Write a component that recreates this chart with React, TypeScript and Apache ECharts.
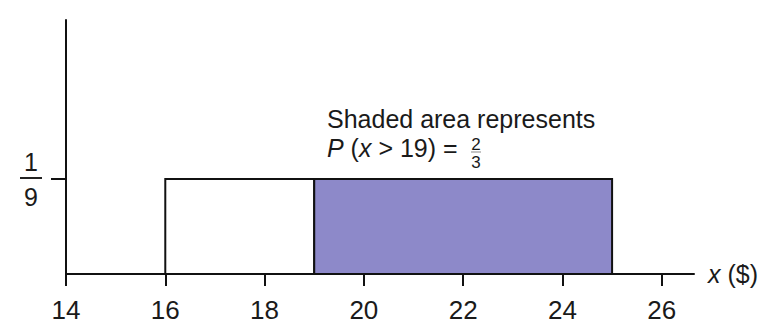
import React, { useEffect, useRef } from "react";
import * as echarts from "echarts";

const xTicks = [14, 16, 18, 20, 22, 24, 26];
const yTicks = [1 / 9];
// [start, end, density, shaded(1) or not(0)]
const segments = [
  [16, 19, 1 / 9, 0],
  [19, 25, 1 / 9, 1],
];
const annotationLine1 = "Shaded area represents";
const xName = "{i|x} ($)";

const FONT = "'Liberation Sans', Arial, sans-serif";
const TXT = "#1a1a1a";

export default function App() {
  const ref = useRef<HTMLDivElement>(null);
  useEffect(() => {
    if (!ref.current) return;
    const chart = echarts.init(ref.current, undefined, { renderer: "svg" });
    chart.setOption({
      animation: false,
      backgroundColor: "#ffffff",
      textStyle: { fontFamily: FONT },
      grid: { left: 66, right: 72, top: 20, bottom: 53, containLabel: false },
      xAxis: {
        type: "value",
        min: 14,
        max: 26.65,
        name: xName,
        nameLocation: "end",
        nameGap: 14,
        nameTextStyle: {
          fontSize: 25,
          color: TXT,
          fontFamily: FONT,
          verticalAlign: "middle",
          rich: { i: { fontStyle: "italic", fontSize: 25, color: TXT, fontFamily: FONT } },
        },
        axisLine: { show: true, onZero: false, lineStyle: { color: "#111", width: 2 } },
        axisTick: { show: true, inside: false, length: 12, lineStyle: { color: "#111", width: 2 }, customValues: xTicks },
        axisLabel: { show: true, fontSize: 26, color: TXT, margin: 23, fontFamily: FONT, customValues: xTicks },
        splitLine: { show: false },
      },
      yAxis: {
        type: "value",
        min: 0,
        max: 0.297,
        axisLine: { show: true, onZero: false, lineStyle: { color: "#111", width: 2 } },
        axisTick: { show: true, inside: false, length: 15, lineStyle: { color: "#111", width: 2 }, customValues: yTicks },
        axisLabel: {
          show: true,
          margin: 24,
          customValues: yTicks,
          padding: [5, 0, 0, 0],
          formatter: () => "{n|1}\n{b| }\n{d|9}",
          rich: {
            n: { fontSize: 25, lineHeight: 27, color: TXT, align: "center", fontFamily: FONT },
            b: { width: 22, height: 2, lineHeight: 4, backgroundColor: "#222", align: "center", fontSize: 2 },
            d: { fontSize: 25, lineHeight: 34, color: TXT, align: "center", fontFamily: FONT },
          },
        },
        splitLine: { show: false },
      },
      series: [
        {
          type: "custom",
          data: segments,
          encode: { x: [0, 1], y: 2 },
          renderItem: (params: any, api: any) => {
            const x0 = api.value(0);
            const x1 = api.value(1);
            const h = api.value(2);
            const s = api.value(3);
            const p0 = api.coord([x0, h]);
            const p1 = api.coord([x1, 0]);
            return {
              type: "rect",
              shape: { x: p0[0], y: p0[1], width: p1[0] - p0[0], height: p1[1] - p0[1] },
              style: { fill: s ? "#8d89c9" : "none", stroke: "#111", lineWidth: 2 },
            };
          },
          z: 1,
        },
      ],
      graphic: [
        {
          type: "text",
          left: 327,
          top: 106,
          style: { text: annotationLine1, fontSize: 25, fill: TXT, fontFamily: FONT },
        },
        {
          type: "text",
          left: 327,
          top: 135,
          style: {
            text: "{i|P} ({i|x} > 19) =",
            fontSize: 25,
            fill: TXT,
            fontFamily: FONT,
            rich: { i: { fontStyle: "italic", fontSize: 25, fill: TXT, fontFamily: FONT } },
          },
        },
        {
          type: "text",
          left: 471,
          top: 136,
          style: {
            text: "{n|2}\n{b| }\n{d|3}",
            fill: TXT,
            fontFamily: FONT,
            rich: {
              n: { fontSize: 17, lineHeight: 13, fill: TXT, align: "center", fontFamily: FONT },
              b: { width: 10, height: 1, lineHeight: 2, backgroundColor: "#888", align: "center", fontSize: 1 },
              d: { fontSize: 17, lineHeight: 19, fill: TXT, align: "center", fontFamily: FONT },
            },
          },
        },
      ],
    });
    return () => chart.dispose();
  }, []);
  return (
    <div
      ref={ref}
      style={{ position: "absolute", left: 0, top: 0, width: 766, height: 327 }}
    />
  );
}
